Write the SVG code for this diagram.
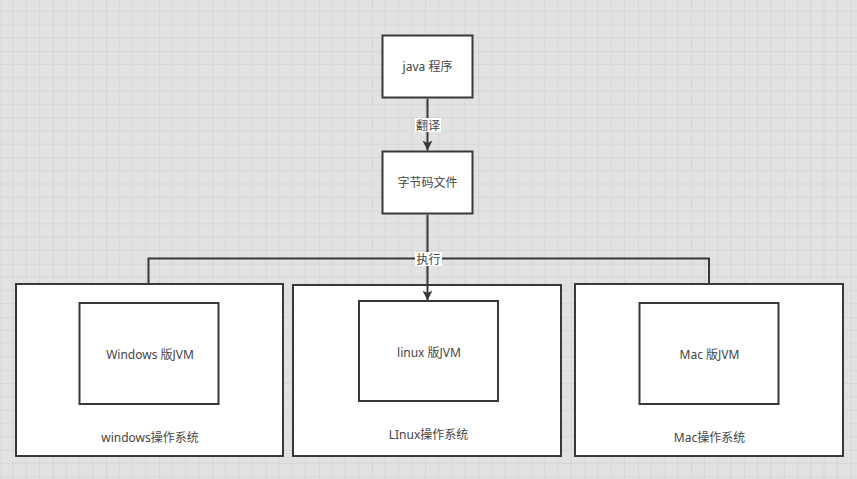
<svg xmlns="http://www.w3.org/2000/svg" width="857" height="479" viewBox="0 0 857 479">
  <style>
    .box { fill: #ffffff; stroke: #383838; stroke-width: 2; }
    .edge { fill: none; stroke: #383838; stroke-width: 2; }
    .t { font-family: "Noto Sans", "Noto Sans CJK SC", sans-serif; font-size: 12px; fill: #454545; text-anchor: middle; dominant-baseline: central; }
    .lblbg { fill: #ffffff; stroke: none; }
  </style>
  <defs>
    <pattern id="grid" width="53.2" height="53.2" patternUnits="userSpaceOnUse" patternTransform="translate(-0.5,-2.2)">
      <rect width="53.2" height="53.2" fill="#e2e2e2"/>
      <path d="M13.3,0V53.2M26.6,0V53.2M39.9,0V53.2M0,13.3H53.2M0,26.6H53.2M0,39.9H53.2" stroke="#d6d6d6" stroke-width="1" fill="none"/>
      <path d="M0,0V53.2M0,0H53.2" stroke="#cdcdcd" stroke-width="1.2" fill="none"/>
    </pattern>
    <marker id="arr" markerWidth="10" markerHeight="12" refX="10" refY="5" orient="auto" markerUnits="userSpaceOnUse" viewBox="0 0 10 10">
      <path d="M0,0 L10,5 L0,10 L2.5,5 Z" fill="#383838"/>
    </marker>
  </defs>
  <rect width="857" height="479" fill="url(#grid)"/>

  <g id="java">
    <rect class="box" x="382.5" y="35.5" width="90" height="62"/>
    <text class="t" x="427.5" y="66.5">java 程序</text>
  </g>
  <g id="bytecode">
    <rect class="box" x="382.5" y="151.5" width="90" height="62"/>
    <text class="t" x="427.5" y="182.5">字节码文件</text>
  </g>

  <g id="windows-os">
    <rect class="box" x="16" y="284" width="267" height="172"/>
    <text class="t" x="150" y="437">windows操作系统</text>
  </g>
  <g id="windows-jvm">
    <rect class="box" x="79.5" y="303" width="139" height="101"/>
    <text class="t" x="150" y="354">Windows 版JVM</text>
  </g>

  <g id="linux-os">
    <rect class="box" x="293" y="285" width="268" height="171"/>
    <text class="t" x="428.5" y="434.5">LInux操作系统</text>
  </g>
  <g id="linux-jvm">
    <rect class="box" x="359" y="301" width="139" height="100"/>
    <text class="t" x="429" y="352">linux 版JVM</text>
  </g>

  <g id="mac-os">
    <rect class="box" x="575" y="284" width="268" height="172"/>
    <text class="t" x="709.5" y="437">Mac操作系统</text>
  </g>
  <g id="mac-jvm">
    <rect class="box" x="639.5" y="303" width="139" height="101"/>
    <text class="t" x="709.5" y="354">Mac 版JVM</text>
  </g>

  <g id="connectors">
    <path class="edge" d="M148.5,283 V258.5 H709 V283"/>
    <path class="edge" d="M427.5,98.5 V150.5" marker-end="url(#arr)"/>
    <path class="edge" d="M427.5,214.5 V300.5" marker-end="url(#arr)"/>
    <g id="label-fanyi">
      <rect class="lblbg" x="415" y="118" width="26" height="14"/>
      <text class="t" x="428" y="125">翻译</text>
    </g>
    <g id="label-zhixing">
      <rect class="lblbg" x="415" y="252" width="27" height="14"/>
      <text class="t" x="428.5" y="259">执行</text>
    </g>
  </g>
</svg>
